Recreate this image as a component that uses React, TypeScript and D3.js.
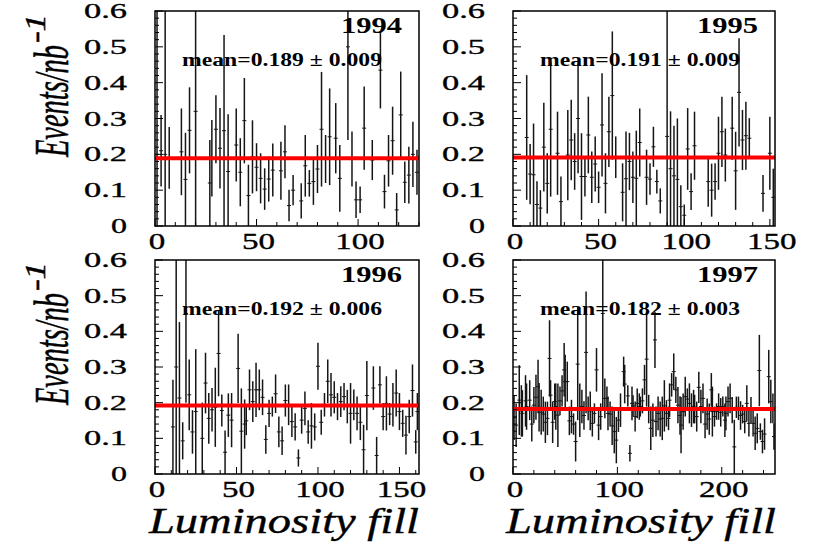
import React from "react";
import * as d3 from "d3";

// ---------- data ----------
const years = ["1994", "1995", "1996", "1997"];
const meanValues = [0.189, 0.191, 0.192, 0.182];
const meanErrors = [0.009, 0.009, 0.006, 0.003];
const xMaxes = [130, 153, 162, 251];
const xMajorSteps = [50, 50, 50, 100];
const xMinorSteps = [10, 10, 10, 20];
const yTickValues = [0, 0.1, 0.2, 0.3, 0.4, 0.5, 0.6];
const yTickLabels = ["0", "0.1", "0.2", "0.3", "0.4", "0.5", "0.6"];
const yAxisTitle = "Events/nb";
const yAxisTitleSup = "-1";
const xAxisTitle = "Luminosity fill";

const fills94 = [1, 3, 5, 7, 13, 15, 17, 20, 27, 28, 30, 32, 34, 36, 40, 42, 44, 46, 48, 50, 52, 54, 56, 58, 62, 64, 66, 68, 72, 74, 76, 78, 80, 82, 84, 86, 89, 91, 95, 97, 99, 101, 103, 107, 111, 113, 115, 117, 119, 121, 123, 125, 127, 129];
const values94 = [0.2, 0.21, 0.2, 0.19, 0.207, 0.13, 0.267, 0.32, 0.12, 0.189, 0.27, 0.217, 0.266, 0.152, 0.226, 0.15, 0.294, 0.085, 0.193, 0.164, 0.133, 0.103, 0.131, 0.156, 0.154, 0.207, 0.057, 0.1, 0.07, 0.168, 0.119, 0.124, 0.159, 0.27, 0.187, 0.249, 0.245, 0.133, 0.5, 0.187, 0.073, 0.073, 0.273, 0.184, 0.435, 0.096, 0.182, 0.238, 0.045, 0.31, 0.122, 0.142, 0.2, 0.15];
const errors94 = [0.5, 0.1, 0.5, 0.086, 0.121, 0.13, 0.12, 0.6, 0.12, 0.107, 0.095, 0.112, 0.267, 0.16, 0.102, 0.095, 0.119, 0.086, 0.102, 0.067, 0.07, 0.058, 0.063, 0.074, 0.081, 0.074, 0.044, 0.042, 0.049, 0.086, 0.037, 0.065, 0.067, 0.16, 0.067, 0.135, 0.098, 0.093, 0.26, 0.077, 0.051, 0.037, 0.116, 0.056, 0.107, 0.047, 0.072, 0.095, 0.047, 0.121, 0.058, 0.079, 0.091, 0.063];

const fills95 = [8, 10, 12, 14, 16, 18, 20, 22, 26, 28, 32, 34, 36, 38, 40, 42, 44, 46, 48, 50, 52, 54, 56, 58, 60, 64, 66, 68, 70, 72, 74, 78, 80, 82, 84, 86, 90, 92, 94, 96, 98, 100, 102, 104, 106, 114, 116, 118, 120, 122, 124, 128, 130, 132, 134, 136, 138, 146, 150, 152];
const values95 = [0.247, 0.145, 0.143, 0.06, 0.05, 0.22, 0.119, 0.27, 0.203, 0.068, 0.198, 0.24, 0.18, 0.3, 0.138, 0.138, 0.254, 0.136, 0.173, 0.108, 0.282, 0.119, 0.263, 0.364, 0.192, 0.094, 0.132, 0.18, 0.136, 0.133, 0.233, 0.136, 0.131, 0.221, 0.124, 0.07, 0.25, 0.16, 0.14, 0.13, 0.054, 0.03, 0.215, 0.096, 0.224, 0.124, 0.1, 0.124, 0.203, 0.263, 0.198, 0.273, 0.154, 0.373, 0.24, 0.252, 0.245, 0.091, 0.203, 0.08];
const errors95 = [0.174, 0.084, 0.143, 0.065, 0.05, 0.124, 0.084, 0.188, 0.116, 0.07, 0.126, 0.112, 0.079, 0.153, 0.121, 0.056, 0.107, 0.072, 0.077, 0.044, 0.144, 0.084, 0.098, 0.179, 0.058, 0.081, 0.132, 0.08, 0.072, 0.133, 0.095, 0.077, 0.044, 0.056, 0.033, 0.035, 0.6, 0.16, 0.14, 0.17, 0.06, 0.03, 0.114, 0.051, 0.095, 0.07, 0.074, 0.051, 0.102, 0.098, 0.074, 0.088, 0.109, 0.151, 0.084, 0.095, 0.056, 0.051, 0.102, 0.08];

const fills96 = [11, 13, 15, 17, 19, 21, 23, 25, 29, 31, 33, 35, 37, 39, 41, 43, 45, 47, 51, 53, 55, 56, 58, 60, 62, 64, 66, 68, 70, 72, 74, 76, 78, 80, 82, 84, 86, 88, 90, 92, 94, 96, 98, 100, 102, 104, 106, 108, 110, 112, 114, 116, 118, 120, 122, 124, 126, 128, 130, 134, 136, 138, 140, 142, 144, 146, 148, 150, 152, 154, 156, 158, 160, 161];
const values96 = [0.132, 0.3, 0.213, 0.093, 0.45, 0.222, 0.118, 0.175, 0.1, 0.255, 0.156, 0.18, 0.187, 0.338, 0.178, 0.061, 0.165, 0.151, 0.296, 0.12, 0.14, 0.149, 0.236, 0.203, 0.236, 0.236, 0.215, 0.097, 0.17, 0.189, 0.225, 0.118, 0.093, 0.206, 0.194, 0.147, 0.132, 0.045, 0.151, 0.184, 0.118, 0.135, 0.132, 0.302, 0.145, 0.194, 0.26, 0.222, 0.215, 0.189, 0.203, 0.217, 0.189, 0.17, 0.194, 0.17, 0.145, 0.068, 0.22, 0.241, 0.052, 0.25, 0.161, 0.198, 0.168, 0.194, 0.227, 0.175, 0.142, 0.109, 0.161, 0.234, 0.09, 0.175];
const errors96 = [0.132, 0.6, 0.213, 0.052, 0.25, 0.099, 0.061, 0.175, 0.1, 0.085, 0.071, 0.061, 0.111, 0.12, 0.045, 0.061, 0.061, 0.076, 0.097, 0.12, 0.069, 0.04, 0.057, 0.057, 0.076, 0.057, 0.05, 0.04, 0.038, 0.028, 0.054, 0.043, 0.04, 0.045, 0.057, 0.043, 0.038, 0.024, 0.038, 0.047, 0.033, 0.064, 0.038, 0.066, 0.035, 0.033, 0.061, 0.061, 0.045, 0.038, 0.043, 0.038, 0.047, 0.085, 0.043, 0.047, 0.05, 0.07, 0.097, 0.061, 0.052, 0.052, 0.038, 0.076, 0.031, 0.061, 0.066, 0.052, 0.038, 0.054, 0.047, 0.073, 0.033, 0.052];

const fills97 = [1, 3, 6, 8, 9, 12, 13, 16, 18, 20, 22, 24, 25, 27, 29, 31, 33, 35, 36, 38, 40, 41, 43, 45, 47, 49, 50, 52, 54, 56, 58, 60, 62, 64, 66, 68, 70, 72, 74, 76, 78, 80, 82, 84, 86, 88, 90, 91, 93, 95, 97, 99, 101, 103, 106, 107, 110, 112, 114, 115, 117, 119, 121, 122, 124, 126, 128, 130, 132, 134, 136, 137, 139, 141, 143, 145, 147, 149, 150, 152, 154, 156, 158, 160, 161, 163, 165, 167, 169, 171, 173, 174, 176, 178, 180, 182, 184, 186, 188, 190, 191, 193, 195, 197, 199, 201, 203, 204, 206, 208, 210, 212, 214, 216, 218, 220, 222, 224, 226, 228, 230, 232, 234, 236, 237, 239, 241, 245, 247, 249, 250];
const values97 = [0.158, 0.137, 0.207, 0.177, 0.17, 0.205, 0.189, 0.207, 0.14, 0.193, 0.215, 0.245, 0.187, 0.173, 0.168, 0.145, 0.156, 0.324, 0.221, 0.145, 0.203, 0.189, 0.165, 0.205, 0.233, 0.292, 0.259, 0.259, 0.149, 0.161, 0.14, 0.091, 0.308, 0.179, 0.189, 0.164, 0.341, 0.184, 0.177, 0.142, 0.17, 0.292, 0.137, 0.161, 0.45, 0.212, 0.212, 0.17, 0.168, 0.135, 0.119, 0.095, 0.151, 0.179, 0.287, 0.252, 0.219, 0.058, 0.198, 0.191, 0.161, 0.198, 0.189, 0.189, 0.205, 0.264, 0.322, 0.182, 0.128, 0.151, 0.376, 0.147, 0.17, 0.154, 0.156, 0.191, 0.17, 0.156, 0.207, 0.25, 0.287, 0.236, 0.193, 0.164, 0.137, 0.175, 0.217, 0.21, 0.198, 0.179, 0.189, 0.182, 0.161, 0.243, 0.189, 0.212, 0.14, 0.168, 0.154, 0.236, 0.175, 0.161, 0.175, 0.189, 0.173, 0.189, 0.151, 0.17, 0.203, 0.212, 0.179, 0.076, 0.187, 0.184, 0.164, 0.168, 0.147, 0.198, 0.142, 0.179, 0.142, 0.114, 0.128, 0.29, 0.119, 0.091, 0.112, 0.273, 0.203, 0.184, 0.105];
const errors97 = [0.063, 0.061, 0.098, 0.072, 0.065, 0.072, 0.065, 0.056, 0.049, 0.051, 0.063, 0.075, 0.068, 0.063, 0.049, 0.058, 0.047, 0.107, 0.042, 0.058, 0.051, 0.065, 0.089, 0.04, 0.044, 0.075, 0.075, 0.056, 0.04, 0.047, 0.03, 0.056, 0.157, 0.075, 0.047, 0.04, 0.171, 0.033, 0.054, 0.037, 0.028, 0.061, 0.042, 0.037, 0.27, 0.056, 0.033, 0.047, 0.035, 0.054, 0.061, 0.065, 0.033, 0.047, 0.042, 0.054, 0.03, 0.023, 0.047, 0.03, 0.042, 0.042, 0.037, 0.028, 0.035, 0.042, 0.133, 0.04, 0.061, 0.047, 0.079, 0.042, 0.047, 0.049, 0.061, 0.072, 0.037, 0.033, 0.047, 0.033, 0.051, 0.037, 0.051, 0.054, 0.079, 0.051, 0.056, 0.03, 0.056, 0.047, 0.047, 0.04, 0.042, 0.044, 0.047, 0.042, 0.04, 0.044, 0.044, 0.047, 0.07, 0.028, 0.023, 0.037, 0.04, 0.028, 0.047, 0.047, 0.042, 0.042, 0.037, 0.076, 0.03, 0.033, 0.04, 0.026, 0.033, 0.051, 0.037, 0.037, 0.037, 0.047, 0.042, 0.1, 0.023, 0.033, 0.044, 0.075, 0.061, 0.042, 0.037];

const panelFills = [fills94, fills95, fills96, fills97];
const panelValues = [values94, values95, values96, values97];
const panelErrors = [errors94, errors95, errors96, errors97];

// ---------- layout ----------
const W = 836;
const H = 548;
const frames = [
  { x0: 155, x1: 419, y0: 11, y1: 226 },
  { x0: 513, x1: 775, y0: 11, y1: 226 },
  { x0: 155, x1: 419, y0: 260, y1: 474 },
  { x0: 513, x1: 775, y0: 260, y1: 474 },
];
const SERIF = "Liberation Serif, Times New Roman, Times, serif";
const TXT = { fill: "#000", stroke: "#000", strokeWidth: 0.35 };

function Panel({ idx }: { idx: number }) {
  const f = frames[idx];
  const x = d3.scaleLinear().domain([0, xMaxes[idx]]).range([f.x0, f.x1]);
  const y = d3.scaleLinear().domain([0, 0.6]).range([f.y1, f.y0]);
  const fills = panelFills[idx];
  const vals = panelValues[idx];
  const errs = panelErrors[idx];
  const clipId = `clip${idx}`;
  const yMinor = d3.range(0, 0.6001, 0.02);
  const xMinor = d3.range(0, xMaxes[idx] + 0.001, xMinorSteps[idx]);
  const xMajor = d3.range(0, xMaxes[idx] + 0.001, xMajorSteps[idx]);
  const isBottom = idx >= 2;
  const meanLabel = `mean=${meanValues[idx].toFixed(3)} \u00B1 ${meanErrors[idx].toFixed(3)}`;
  return (
    <g>
      <defs>
        <clipPath id={clipId}>
          <rect x={f.x0} y={f.y0} width={f.x1 - f.x0} height={f.y1 - f.y0} />
        </clipPath>
      </defs>
      <g clipPath={`url(#${clipId})`}>
        {fills.map((fv, i) => {
          const cx = x(fv);
          return (
            <g key={i}>
              <line x1={cx} x2={cx} y1={y(vals[i] - errs[i])} y2={y(vals[i] + errs[i])} stroke="#151515" strokeWidth={1.5} />
              <line x1={cx - 2} x2={cx + 2} y1={y(vals[i])} y2={y(vals[i])} stroke="#151515" strokeWidth={1} />
            </g>
          );
        })}
        <line x1={f.x0} x2={f.x1} y1={y(meanValues[idx])} y2={y(meanValues[idx])} stroke="#ff0000" strokeWidth={4} />
      </g>
      {yMinor.map((t, i) => {
        const major = Math.abs(t * 10 - Math.round(t * 10)) < 1e-6;
        return <line key={`yt${i}`} x1={f.x0} x2={f.x0 + (major ? 8 : 4)} y1={y(t)} y2={y(t)} stroke="#000" strokeWidth={1} />;
      })}
      {xMinor.map((t, i) => {
        const major = Math.abs(t / xMajorSteps[idx] - Math.round(t / xMajorSteps[idx])) < 1e-6;
        return <line key={`xt${i}`} x1={x(t)} x2={x(t)} y1={f.y1} y2={f.y1 - (major ? 7 : 4)} stroke="#000" strokeWidth={1} />;
      })}
      <rect x={f.x0} y={f.y0} width={f.x1 - f.x0} height={f.y1 - f.y0} fill="none" stroke="#000" strokeWidth={1.5} />
      {yTickValues.map((t, i) => (
        <text key={`yl${i}`} x={f.x0 - 28} y={y(t) + 7} fontFamily={SERIF} fontSize={21} textAnchor="end"
          textLength={yTickLabels[i].length === 1 ? 16 : 43} lengthAdjust="spacingAndGlyphs" {...TXT}>
          {yTickLabels[i]}
        </text>
      ))}
      {xMajor.map((t, i) => {
        const s = String(t);
        return (
          <text key={`xl${i}`} x={x(t) + 2} y={f.y1 + 23} fontFamily={SERIF} fontSize={23} textAnchor="middle"
            textLength={s.length * 16.5} lengthAdjust="spacingAndGlyphs" {...TXT}>
            {s}
          </text>
        );
      })}
      <text x={f.x1 - 17} y={f.y0 + 22} fontFamily={SERIF} fontWeight="bold" fontSize={23} textAnchor="end"
        textLength={61} lengthAdjust="spacingAndGlyphs">
        {years[idx]}
      </text>
      <text x={f.x0 + 27} y={f.y0 + 55} fontFamily={SERIF} fontWeight="bold" fontSize={18}
        textLength={200} lengthAdjust="spacingAndGlyphs">
        {meanLabel}
      </text>
      {idx % 2 === 0 && (
        <g>
          <text transform={`translate(68,${f.y1 - 69}) scale(1.6,1) rotate(-90)`} fontFamily={SERIF} fontStyle="italic"
            fontSize={30} textLength={112} lengthAdjust="spacingAndGlyphs" {...TXT}>
            {yAxisTitle}
          </text>
          <text transform={`translate(45,${f.y1 - 183}) scale(1.5,1) rotate(-90)`} fontFamily={SERIF} fontStyle="italic"
            fontSize={20} textLength={29} lengthAdjust="spacingAndGlyphs" {...TXT}>
            {yAxisTitleSup}
          </text>
        </g>
      )}
      {isBottom && (
        <text x={(f.x0 + f.x1) / 2 - 3} y={533} fontFamily={SERIF} fontStyle="italic" fontSize={35} textAnchor="middle"
          textLength={270} lengthAdjust="spacingAndGlyphs" {...TXT}>
          {xAxisTitle}
        </text>
      )}
    </g>
  );
}

export default function App() {
  return (
    <svg width={W} height={H} style={{ position: "absolute", left: 0, top: 0, background: "#fff" }}>
      <rect x={0} y={0} width={W} height={H} fill="#fff" />
      {[0, 1, 2, 3].map((i) => (
        <Panel key={i} idx={i} />
      ))}
    </svg>
  );
}
